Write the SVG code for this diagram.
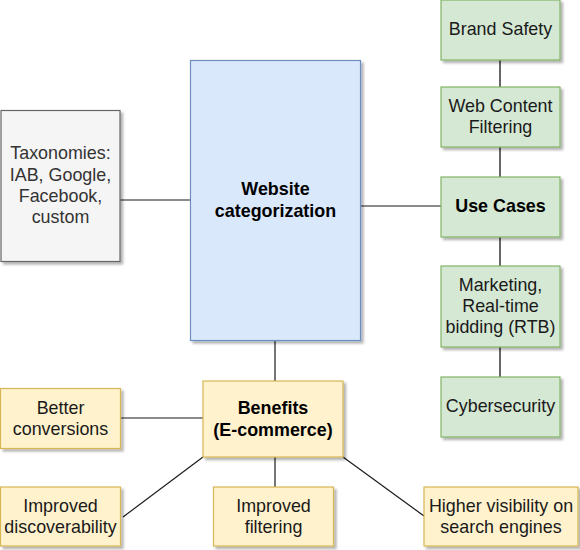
<svg xmlns="http://www.w3.org/2000/svg" width="580" height="550" viewBox="0 0 580 550">
<defs>
<filter id="sh" x="-10%" y="-10%" width="130%" height="130%">
<feDropShadow dx="2.5" dy="2.5" stdDeviation="1" flood-color="#000" flood-opacity="0.3"/>
</filter>
<style>
.t{font-family:"Liberation Sans",Arial,sans-serif;font-size:17.9px;fill:#1a1a1a;text-anchor:middle;dominant-baseline:central}
.b{font-weight:bold;fill:#000}
.blue{fill:#dae8fc;stroke:#6c8ebf;stroke-width:1.2}
.gray{fill:#f5f5f5;stroke:#666666;stroke-width:1.2}
.green{fill:#d5e8d4;stroke:#82b366;stroke-width:1.2}
.yel{fill:#fff2cc;stroke:#d6b656;stroke-width:1.2}
.c{stroke:#1a1a1a;stroke-width:1.2;fill:none}
.cg{stroke:#666666;stroke-width:2;fill:none}
</style>
</defs>
<rect width="580" height="550" fill="#ffffff"/>
<g id="connectors">
<line class="c" x1="120" y1="200" x2="190" y2="200"/>
<line class="c" x1="360" y1="206" x2="441" y2="206"/>
<line class="cg" x1="500" y1="60" x2="500" y2="87"/>
<line class="cg" x1="500" y1="147" x2="500" y2="177"/>
<line class="cg" x1="500" y1="237" x2="500" y2="266"/>
<line class="cg" x1="500" y1="347" x2="500" y2="377"/>
<line class="c" x1="275" y1="340" x2="275" y2="381"/>
<line class="c" x1="121" y1="418" x2="203" y2="418"/>
<line class="c" x1="203" y1="457" x2="123" y2="517"/>
<line class="c" x1="275" y1="457" x2="275" y2="487"/>
<line class="c" x1="343" y1="457" x2="424" y2="516"/>
</g>
<g id="website">
<rect class="blue" filter="url(#sh)" x="190.5" y="60.5" width="170" height="280"/>
<text class="t b" x="275.5" y="189">Website</text>
<text class="t b" x="275.5" y="211">categorization</text>
</g>
<g id="taxonomies">
<rect class="gray" filter="url(#sh)" x="1" y="110.5" width="119" height="151"/>
<text class="t" style="fill:#333333" x="60.5" y="153">Taxonomies:</text>
<text class="t" style="fill:#333333" x="60.5" y="175">IAB, Google,</text>
<text class="t" style="fill:#333333" x="60.5" y="196">Facebook,</text>
<text class="t" style="fill:#333333" x="60.5" y="217">custom</text>
</g>
<g id="brand">
<rect class="green" filter="url(#sh)" x="441" y="0" width="119" height="60"/>
<text class="t" x="500.5" y="29">Brand Safety</text>
</g>
<g id="webcontent">
<rect class="green" filter="url(#sh)" x="441" y="87" width="119" height="60"/>
<text class="t" x="500.5" y="106">Web Content</text>
<text class="t" x="500.5" y="127">Filtering</text>
</g>
<g id="usecases">
<rect class="green" filter="url(#sh)" x="441" y="177" width="119" height="60"/>
<text class="t b" x="500.5" y="206">Use Cases</text>
</g>
<g id="marketing">
<rect class="green" filter="url(#sh)" x="441" y="266" width="119" height="81"/>
<text class="t" x="500.5" y="285">Marketing,</text>
<text class="t" x="500.5" y="306">Real-time</text>
<text class="t" x="500.5" y="327">bidding (RTB)</text>
</g>
<g id="cyber">
<rect class="green" filter="url(#sh)" x="441" y="377" width="119" height="60"/>
<text class="t" x="500.5" y="406">Cybersecurity</text>
</g>
<g id="benefits">
<rect class="yel" filter="url(#sh)" x="203" y="381" width="140" height="76"/>
<text class="t b" x="273" y="408">Benefits</text>
<text class="t b" x="273" y="430">(E-commerce)</text>
</g>
<g id="conversions">
<rect class="yel" filter="url(#sh)" x="0.5" y="388.5" width="120" height="60"/>
<text class="t" x="60.5" y="408">Better</text>
<text class="t" x="60.5" y="429">conversions</text>
</g>
<g id="discoverability">
<rect class="yel" filter="url(#sh)" x="0.5" y="487" width="120" height="59"/>
<text class="t" x="60.5" y="506">Improved</text>
<text class="t" x="60.5" y="527">discoverability</text>
</g>
<g id="filtering">
<rect class="yel" filter="url(#sh)" x="213.5" y="487" width="120" height="59"/>
<text class="t" x="273.5" y="506">Improved</text>
<text class="t" x="273.5" y="527">filtering</text>
</g>
<g id="visibility">
<rect class="yel" filter="url(#sh)" x="424" y="487" width="154" height="59"/>
<text class="t" x="501" y="506">Higher visibility on</text>
<text class="t" x="501" y="527">search engines</text>
</g>
</svg>
